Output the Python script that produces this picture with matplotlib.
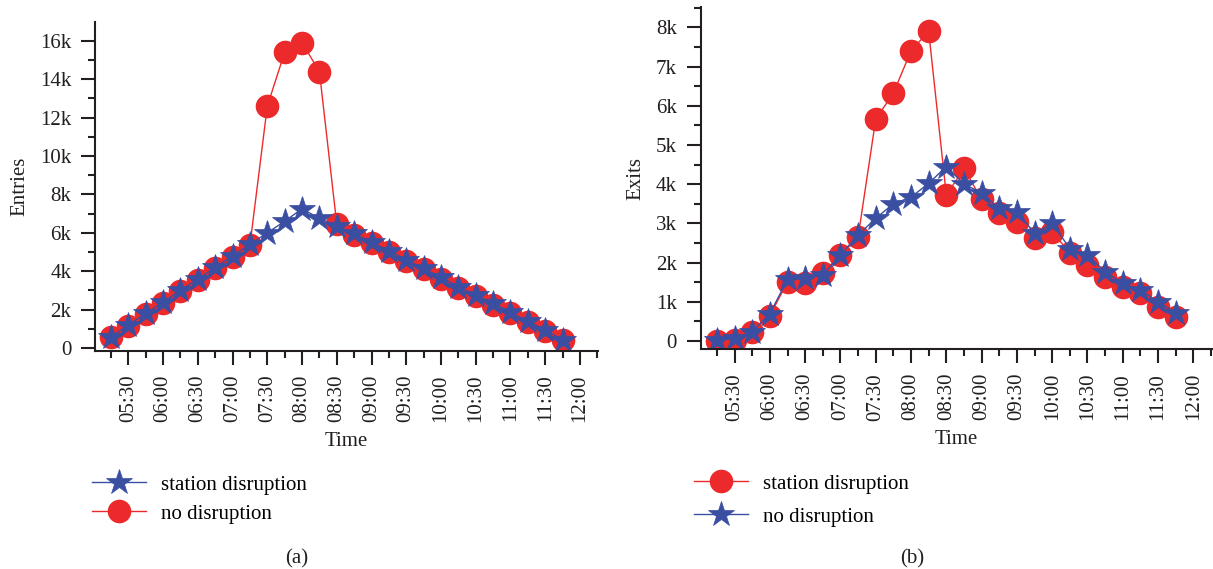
import numpy as np
import matplotlib.pyplot as plt
from matplotlib.ticker import FuncFormatter, MultipleLocator

plt.rcParams['font.family'] = ['Liberation Serif', 'DejaVu Serif']
plt.rcParams['font.size'] = 15

# Data
times = ['05:15', '05:30', '05:45', '06:00', '06:15', '06:30', '06:45', '07:00', '07:15',
         '07:30', '07:45', '08:00', '08:15', '08:30', '08:45', '09:00', '09:15', '09:30',
         '09:45', '10:00', '10:15', '10:30', '10:45', '11:00', '11:15', '11:30', '11:45']

# (a) entries
entries_star = [590, 1200, 1800, 2400, 3000, 3600, 4200, 4800, 5400,
                6000, 6600, 7250, 6750, 6350, 5970, 5500, 5070, 4600,
                4150, 3680, 3200, 2760, 2330, 1860, 1400, 940, 420]
entries_circle = [550, 1150, 1750, 2350, 2950, 3550, 4150, 4750, 5350,
                  12600, 15400, 15900, 14400, 6450, 5900, 5450, 5000, 4550,
                  4100, 3600, 3150, 2700, 2250, 1800, 1350, 900, 400]

# (b) exits
exits_star = [30, 70, 240, 700, 1570, 1600, 1680, 2200, 2700,
              3130, 3500, 3670, 4020, 4450, 4000, 3780, 3380, 3300,
              2750, 3000, 2360, 2190, 1770, 1470, 1300, 1000, 720]
exits_circle = [0, 30, 220, 650, 1510, 1470, 1730, 2200, 2650,
                5660, 6320, 7400, 7900, 3720, 4400, 3610, 3260, 3040,
                2620, 2790, 2240, 1940, 1640, 1370, 1220, 880, 620]

red = '#ED2A2B'
blue = '#3A4EA2'
dark = '#231F20'

hours = np.array([int(t[:2]) + int(t[3:]) / 60 for t in times])
major_ticks = np.arange(5.5, 12.01, 0.5)
major_labels = ['%02d:%02d' % (int(h), round((h % 1) * 60)) for h in major_ticks]

W, H = 1213, 569
fig = plt.figure(figsize=(W / 100, H / 100), dpi=100)


def style_axes(ax, ylim, ystep, yminor):
    for s in ['top', 'right']:
        ax.spines[s].set_visible(False)
    for s in ['left', 'bottom']:
        ax.spines[s].set_linewidth(1.5)
        ax.spines[s].set_color(dark)
    ax.set_xlim(5.02, 12.26)
    ax.set_ylim(*ylim)
    ax.set_xticks(major_ticks)
    ax.set_xticklabels(major_labels, rotation=90)
    ax.set_xticks(np.arange(5.25, 12.3, 0.5), minor=True)
    ax.yaxis.set_major_locator(MultipleLocator(ystep))
    ax.yaxis.set_minor_locator(MultipleLocator(yminor))
    ax.yaxis.set_major_formatter(FuncFormatter(lambda v, p: '0' if v == 0 else '%dk' % round(v / 1000)))
    ax.tick_params(which='major', direction='out', length=10, width=1.5, color=dark,
                   labelsize=15, labelcolor=dark, pad=7)
    ax.tick_params(which='minor', direction='out', length=5, width=1.5, color=dark)
    ax.set_xlabel('Time', fontsize=15, color=dark, labelpad=7)


# (a)
ax1 = fig.add_axes([95 / W, 1 - 351 / H, (598 - 95) / W, (351 - 22) / H])
ax1.plot(hours, entries_circle, color=red, lw=1, marker='o', ms=17, mec=red, mew=0, label='no disruption')
ax1.plot(hours, entries_star, color=blue, lw=1, marker='*', ms=19, mec=blue, mew=0.5, label='station disruption')
style_axes(ax1, (-156, 16980), 2000, 1000)
ax1.set_ylabel('Entries', fontsize=15, color=dark, labelpad=8)
h, l = ax1.get_legend_handles_labels()
fig.legend(h[::-1], l[::-1], loc='upper left', bbox_to_anchor=(92 / W, 1 - 475 / H), frameon=False,
           handlelength=2.6, handletextpad=0.7, labelspacing=0.45, borderpad=0, borderaxespad=0, fontsize=15)
fig.text(297 / W, 1 - 559 / H, '(a)', ha='center', va='center', fontsize=15, color=dark)

# (b)
ax2 = fig.add_axes([700.7 / W, 1 - 349.3 / H, (1211.7 - 700.7) / W, (349.3 - 7.3) / H])
ax2.plot(hours, exits_circle, color=red, lw=1, marker='o', ms=17, mec=red, mew=0, label='station disruption')
ax2.plot(hours, exits_star, color=blue, lw=1, marker='*', ms=19, mec=blue, mew=0.5, label='no disruption')
style_axes(ax2, (-210, 8510), 1000, 500)
ax2.set_ylabel('Exits', fontsize=15, color=dark, labelpad=8)
h, l = ax2.get_legend_handles_labels()
fig.legend(h, l, loc='upper left', bbox_to_anchor=(694 / W, 1 - 474 / H), frameon=False,
           handlelength=2.6, handletextpad=0.7, labelspacing=0.65, borderpad=0, borderaxespad=0, fontsize=15)
fig.text(912 / W, 1 - 559 / H, '(b)', ha='center', va='center', fontsize=15, color=dark)

fig.savefig('out.png', dpi=100)
